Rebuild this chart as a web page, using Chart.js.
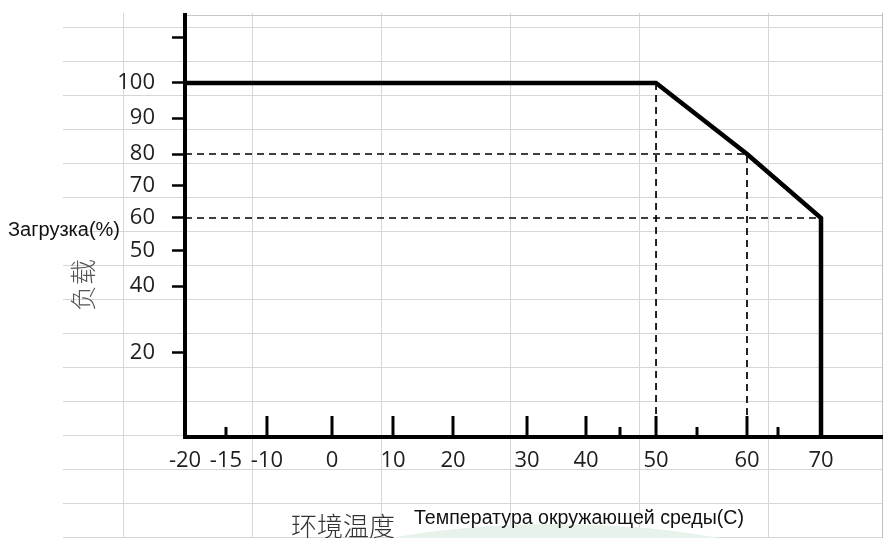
<!DOCTYPE html>
<html>
<head>
  <meta charset="utf-8">
  <title>Derating curve</title>
  <script src="https://cdn.jsdelivr.net/npm/chart.js@4.4.1/dist/chart.umd.min.js"></script>
  <style>
    body { margin: 0; background: #fff; }
    #wrap { position: relative; width: 886px; height: 538px; overflow: hidden; background: #fff; }
    #sheet {
      position: absolute; left: 63px; top: 13px; width: 820px; height: 525px;
      background-image: linear-gradient(to right, #d6d6d6 0 1px, transparent 1px),
                        linear-gradient(to bottom, #d6d6d6 0 1px, transparent 1px);
      background-size: 129px 34px;
      background-position: 60px 14px;
    }
    #topline { position: absolute; left: 185px; top: 15px; width: 698px; height: 1px; background: #c8c8c8; }
    #rightline { position: absolute; left: 882px; top: 13px; width: 1px; height: 525px; background: #c0c0c0; }
    #arc {
      position: absolute; left: -425px; top: 524px; width: 1960px; height: 1960px;
      border-radius: 50%; border: 14px solid #e6f2ea; box-sizing: border-box;
    }
    #chart { position: absolute; left: 0; top: 0; }
    .lbl { position: absolute; white-space: nowrap; }
    #yRu { left: 8px; top: 218px; font: 20px "Liberation Sans", Arial, sans-serif; color: #111; }
    #yCn { left: 50px; top: 272px; font: 300 26px "Noto Sans CJK SC", sans-serif; color: #555;
           transform: rotate(-90deg); transform-origin: 26px 13px; }
    #xCn { left: 291px; top: 506px; font: 300 26px "Noto Sans CJK SC", sans-serif; color: #333; }
    #xRu { left: 414px; top: 506px; font: 19.6px "Liberation Sans", Arial, sans-serif; color: #111; }
  </style>
</head>
<body>
  <div id="wrap">
    <div id="sheet"></div>
    <div id="arc"></div>
    <div id="topline"></div>
    <div id="rightline"></div>
    <canvas id="chart" width="886" height="538"></canvas>
    <div class="lbl" id="yRu">Загрузка(%)</div>
    <div class="lbl" id="yCn">负载</div>
    <div class="lbl" id="xCn">环境温度</div>
    <div class="lbl" id="xRu">Температура окружающей среды(С)</div>
  </div>

  <script>
    // derating curve: load (%) vs ambient temperature (C)
    const tempC = [-20, 50, 60, 70, 70];
    const loadPct = [100, 100, 80, 60, 0];

    // dashed helper lines
    const guide80X = [-20, 60, 60];
    const guide80Y = [80, 80, 0];
    const guide60X = [-20, 70];
    const guide60Y = [60, 60];
    const guide50X = [50, 50];
    const guide50Y = [100, 0];

    // axis ticks
    const xTickValues = [-20, -15, -10, 0, 10, 20, 30, 40, 50, 60, 70];
    const xMajorMarks = [-10, 0, 10, 20, 30, 40, 50, 60];
    const xMinorMarks = [-15, 45, 55, 65];
    const yTickValues = [20, 40, 50, 60, 70, 80, 90, 100, 113];
    const yTickLabels = ['20', '40', '50', '60', '70', '80', '90', '100', ''];

    function pts(xs, ys) {
      return xs.map((x, i) => ({ x: x, y: ys[i] }));
    }

    // the drawing is not to scale, so the axes are piecewise linear
    class PiecewiseScale extends Chart.LinearScale {
      toDecimal(value) {
        const kv = this.options.knotValues, kf = this.options.knotFractions;
        if (value <= kv[0]) return kf[0];
        for (let i = 1; i < kv.length; i++) {
          if (value <= kv[i]) {
            const t = (value - kv[i - 1]) / (kv[i] - kv[i - 1]);
            return kf[i - 1] + t * (kf[i] - kf[i - 1]);
          }
        }
        return kf[kf.length - 1];
      }
      getPixelForValue(value) {
        if (value === null || value === undefined) return NaN;
        return this.getPixelForDecimal(this.toDecimal(value));
      }
      getValueForPixel(pixel) {
        const d = this.getDecimalForPixel(pixel);
        const kv = this.options.knotValues, kf = this.options.knotFractions;
        for (let i = 1; i < kf.length; i++) {
          if (d <= kf[i]) {
            const t = (d - kf[i - 1]) / (kf[i] - kf[i - 1]);
            return kv[i - 1] + t * (kv[i] - kv[i - 1]);
          }
        }
        return kv[kv.length - 1];
      }
      buildTicks() {
        return this.options.tickValues.map(v => ({ value: v }));
      }
    }
    PiecewiseScale.id = 'piecewise';
    PiecewiseScale.defaults = Chart.LinearScale.defaults;
    Chart.register(PiecewiseScale);

    const tickMarks = {
      id: 'tickMarks',
      afterDatasetsDraw(chart) {
        const { ctx, chartArea } = chart;
        const x = chart.scales.x;
        ctx.save();
        ctx.strokeStyle = '#000';
        ctx.lineWidth = 3;
        const mark = (v, len) => {
          const px = x.getPixelForValue(v);
          ctx.beginPath();
          ctx.moveTo(px, chartArea.bottom);
          ctx.lineTo(px, chartArea.bottom - len);
          ctx.stroke();
        };
        xMajorMarks.forEach(v => mark(v, 21));
        xMinorMarks.forEach(v => mark(v, 10));
        ctx.restore();
      }
    };

    const tickFont = { family: '"Open Sans", sans-serif', size: 22 };
    const dashed = { borderColor: '#000', borderWidth: 1.7, borderDash: [7, 5], pointRadius: 0, showLine: true, clip: false };

    new Chart(document.getElementById('chart'), {
      type: 'scatter',
      data: {
        datasets: [
          { data: pts(tempC, loadPct), borderColor: '#000', borderWidth: 4.5, pointRadius: 0, showLine: true, clip: false, borderJoinStyle: 'miter' },
          Object.assign({ data: pts(guide80X, guide80Y) }, dashed),
          Object.assign({ data: pts(guide60X, guide60Y) }, dashed),
          Object.assign({ data: pts(guide50X, guide50Y) }, dashed)
        ]
      },
      options: {
        responsive: false,
        animation: false,
        devicePixelRatio: 1,
        layout: { padding: { top: 15, right: 4, left: 0, bottom: 0 } },
        plugins: { legend: { display: false }, tooltip: { enabled: false } },
        scales: {
          x: {
            type: 'piecewise',
            min: -20, max: 80,
            tickValues: xTickValues,
            knotValues: [-20, -15, -10, 0, 10, 20, 30, 40, 45, 50, 55, 60, 65, 70, 80],
            knotFractions: [0, 0.0588, 0.1176, 0.2109, 0.2984, 0.3845, 0.4907, 0.5753, 0.6241, 0.6758, 0.7346, 0.8063, 0.8508, 0.9125, 1],
            afterFit: s => { s.height = 101; s.paddingLeft = 0; s.paddingRight = 0; },
            grid: { drawOnChartArea: false, drawTicks: false },
            border: { display: true, color: '#000', width: 4 },
            ticks: { font: tickFont, color: '#1e1e1e', padding: 11, maxRotation: 0, autoSkip: false }
          },
          y: {
            type: 'piecewise',
            min: 0, max: 120,
            tickValues: yTickValues,
            knotValues: [0, 20, 40, 50, 60, 70, 80, 90, 100, 113, 120],
            knotFractions: [0, 0.1991, 0.3578, 0.4408, 0.5190, 0.5948, 0.6706, 0.7559, 0.8389, 0.9455, 1],
            afterFit: s => { s.width = 185; s.paddingTop = 0; s.paddingBottom = 0; },
            grid: { drawOnChartArea: false, drawTicks: true, tickLength: 13, tickWidth: 2.5, tickColor: '#000' },
            border: { display: true, color: '#000', width: 4 },
            ticks: {
              font: tickFont, color: '#1e1e1e', padding: 17, autoSkip: false,
              callback: (v, i) => yTickLabels[i]
            }
          }
        }
      },
      plugins: [tickMarks]
    });
  </script>
</body>
</html>
